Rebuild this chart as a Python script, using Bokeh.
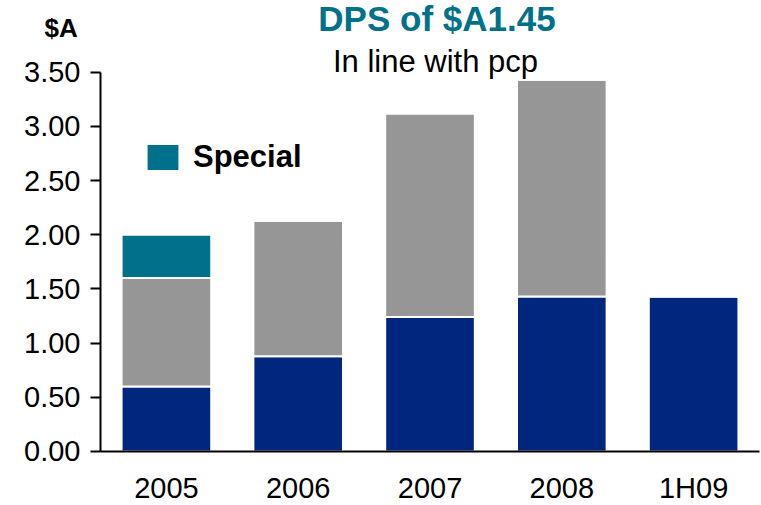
from bokeh.plotting import figure
from bokeh.models import (Range1d, FixedTicker, NumeralTickFormatter,
                          Label, Legend, LegendItem, ColumnDataSource)
from bokeh.embed import file_html
from bokeh.resources import INLINE

years = ["2005", "2006", "2007", "2008", "1H09"]
interim = [0.60, 0.88, 1.24, 1.43, 1.43]
final = [1.00, 1.25, 1.88, 2.00, 0.00]
special = [0.40, 0.00, 0.00, 0.00, 0.00]
y_ticks = [0.0, 0.5, 1.0, 1.5, 2.0, 2.5, 3.0, 3.5]

BLUE = "#00267D"
GREY = "#969696"
TEAL = "#00718A"
FONT = "Liberation Sans"

xpos = [i + 0.5 for i in range(len(years))]
source = ColumnDataSource(dict(x=xpos, interim=interim, final=final, special=special))

# frame covers the whole canvas; axes sit inside it at x=0 / y=0
X0, X1 = -0.7587, 5.015
Y0, Y1 = -0.4983, 4.1617

p = figure(x_range=Range1d(X0, X1), y_range=Range1d(Y0, Y1),
           width=761, height=505, output_backend="svg", toolbar_location=None,
           min_border_left=0, min_border_right=0, min_border_top=0, min_border_bottom=0)

r = p.vbar_stack(["interim", "final", "special"], x="x", width=0.68, source=source,
                 color=[BLUE, GREY, TEAL], line_color="white", line_width=2)

p.outline_line_color = None
p.xgrid.grid_line_color = None
p.ygrid.grid_line_color = None

p.yaxis.fixed_location = 0
p.yaxis.bounds = (0, 3.5)
p.yaxis.ticker = FixedTicker(ticks=y_ticks)
p.yaxis.formatter = NumeralTickFormatter(format="0.00")
p.yaxis.major_tick_in = 0
p.yaxis.major_tick_out = 10
p.yaxis.minor_tick_line_color = None
p.yaxis.major_label_standoff = 10

p.xaxis.fixed_location = 0
p.xaxis.bounds = (0, 5.0)
p.xaxis.ticker = FixedTicker(ticks=xpos)
p.xaxis.major_label_overrides = {x: y for x, y in zip(xpos, years)}
p.xaxis.major_tick_line_color = None
p.xaxis.minor_tick_line_color = None
p.xaxis.major_tick_in = 0
p.xaxis.major_tick_out = 0
p.xaxis.major_label_standoff = 21

for ax in (p.xaxis[0], p.yaxis[0]):
    ax.axis_line_color = "black"
    ax.axis_line_width = 2
    ax.major_tick_line_width = 2
    ax.major_label_text_font = FONT
    ax.major_label_text_font_size = "29px"
    ax.major_label_text_color = "black"

legend = Legend(items=[LegendItem(label="Special", renderers=[r[2]])],
                location=(142, 330), padding=0, spacing=0, margin=0,
                glyph_width=41, glyph_height=34, label_height=34,
                label_standoff=10, label_text_font=FONT, label_text_font_size="31px",
                label_text_font_style="bold", label_text_color="black",
                border_line_color=None, background_fill_alpha=0)
p.add_layout(legend, "center")

p.add_layout(Label(x=436.5, y=487.5, x_units="screen", y_units="screen", text="DPS of $A1.45",
                   text_align="center", text_baseline="middle", text_font=FONT,
                   text_font_size="35px", text_font_style="bold", text_color=TEAL))
p.add_layout(Label(x=435, y=444, x_units="screen", y_units="screen", text="In line with pcp",
                   text_align="center", text_baseline="middle", text_font=FONT,
                   text_font_size="31px", text_color="black"))
p.add_layout(Label(x=44, y=477.5, x_units="screen", y_units="screen", text="$A",
                   text_align="left", text_baseline="middle", text_font=FONT,
                   text_font_size="26px", text_font_style="bold", text_color="black"))

open("out.html", "w").write(file_html(p, INLINE))
